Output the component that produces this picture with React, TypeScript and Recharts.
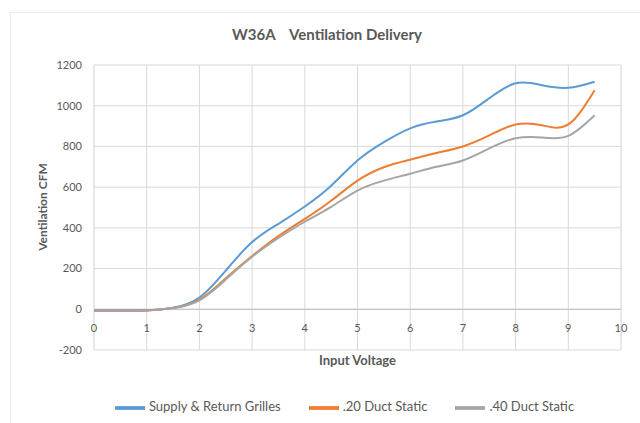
import { LineChart, Line, XAxis, YAxis, CartesianGrid, ReferenceLine, ReferenceDot, Legend } from "recharts";

const voltage = [0, 0.5, 1, 1.5, 2, 2.5, 3, 3.5, 4, 4.5, 5, 5.5, 6, 6.5, 7, 7.5, 8, 8.5, 9, 9.5];
const grilles = [-6, -6, -5, 8, 58, 190, 330, 420, 505, 607, 731, 821, 889, 922, 953, 1037, 1110, 1101, 1088, 1118];
const duct20 = [-7, -7, -6, 6, 48, 152, 262, 360, 444, 533, 632, 698, 735, 768, 800, 854, 908, 904, 908, 1076];
const duct40 = [-7, -7, -6, 6, 44, 146, 258, 350, 430, 503, 583, 632, 666, 700, 731, 790, 840, 844, 852, 953];

const seriesNames = ["Supply & Return Grilles", ".20 Duct Static", ".40 Duct Static"];
const xTicks = [0, 1, 2, 3, 4, 5, 6, 7, 8, 9, 10];
const yTicks = [-200, 0, 200, 400, 600, 800, 1000, 1200];
// minor vertical gridlines every 0.2 V
const xMinorTicks = Array.from({ length: 51 }, (_, i) => +(i * 0.2).toFixed(1));

const data = voltage.map((v, i) => ({
  v,
  grilles: grilles[i],
  duct20: duct20[i],
  duct40: duct40[i],
}));

const TEXT = "#595959";

export default function App() {
  return (
    <div
      style={{
        position: "fixed",
        left: 0,
        top: 0,
        width: 640,
        height: 423,
        background: "#fff",
        fontFamily: "Lato, 'Open Sans', sans-serif",
        overflow: "hidden",
      }}
    >
      <div
        style={{
          position: "absolute",
          left: 10,
          top: 12,
          width: 700,
          height: 500,
          borderLeft: "1px solid #ececec",
          borderTop: "1px solid #ececec",
        }}
      />
      <div
        style={{
          position: "absolute",
          top: 25,
          left: 0,
          width: 654,
          textAlign: "center",
          fontSize: 15,
          fontWeight: 700,
          color: TEXT,
          whiteSpace: "pre",
        }}
      >
        W36A    Ventilation Delivery
      </div>
      <div
        style={{
          position: "absolute",
          left: 42,
          top: 207,
          transform: "translate(-50%, -50%) rotate(-90deg)",
          fontSize: 12,
          fontWeight: 700,
          color: TEXT,
          whiteSpace: "nowrap",
        }}
      >
        Ventilation CFM
      </div>
      <LineChart width={640} height={423} data={data} margin={{ top: 65, right: 19, left: 0, bottom: 0 }}>
        <CartesianGrid horizontal={false} stroke="#f0f0f0" />
        <CartesianGrid vertical={false} stroke="#d9d9d9" />
        {xTicks.map((t) => (
          <ReferenceLine key={"g" + t} x={t} stroke="#d9d9d9" />
        ))}
        <ReferenceLine y={0} stroke="#bfbfbf" />
        <XAxis
          type="number"
          dataKey="v"
          domain={[0, 10]}
          ticks={xMinorTicks}
          tick={false}
          tickLine={false}
          axisLine={false}
          height={43}
          label={{ value: "Input Voltage", position: "insideTop", offset: 6, fontSize: 13, fontWeight: 700, fill: TEXT }}
        />
        <YAxis
          type="number"
          domain={[-200, 1200]}
          ticks={yTicks}
          axisLine={false}
          tickLine={false}
          tickMargin={6}
          width={94}
          tick={{ fontSize: 11, fill: TEXT }}
        />
        {xTicks.map((t) => (
          <ReferenceDot
            key={"l" + t}
            x={t}
            y={0}
            r={0}
            fill="none"
            stroke="none"
            label={{ value: String(t), position: "bottom", offset: 15, fontSize: 11, fill: TEXT }}
          />
        ))}
        <Line type="natural" dataKey="grilles" name={seriesNames[0]} stroke="#5B9BD5" strokeWidth={2} dot={false} isAnimationActive={false} />
        <Line type="natural" dataKey="duct20" name={seriesNames[1]} stroke="#ED7D31" strokeWidth={2} dot={false} isAnimationActive={false} />
        <Line type="natural" dataKey="duct40" name={seriesNames[2]} stroke="#A5A5A5" strokeWidth={2} dot={false} isAnimationActive={false} />
        <Legend
          verticalAlign="bottom"
          iconType="plainline"
          iconSize={30}
          itemSorter={(item: any) => seriesNames.indexOf(item.value)}
          wrapperStyle={{ fontSize: 13, paddingLeft: 48 }}
          formatter={(value) => <span style={{ color: TEXT, marginRight: 18 }}>{value}</span>}
        />
      </LineChart>
    </div>
  );
}
